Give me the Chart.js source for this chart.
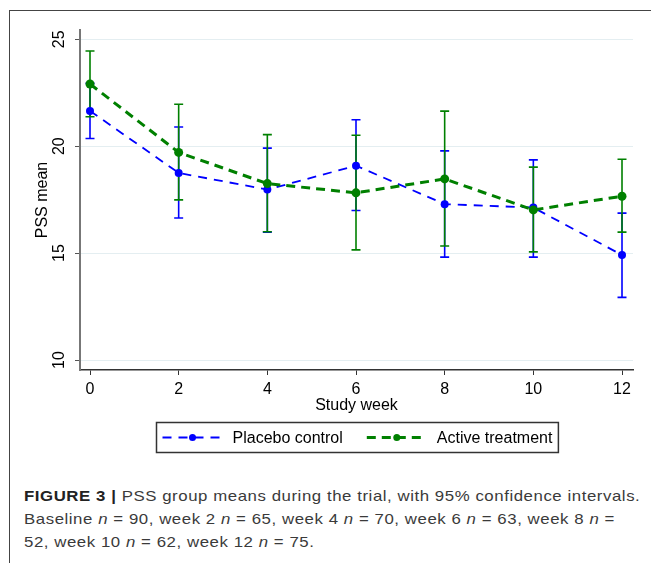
<!DOCTYPE html>
<html>
<head>
<meta charset="utf-8">
<script src="https://cdn.jsdelivr.net/npm/chart.js@4.4.0/dist/chart.umd.min.js"></script>
<style>
    body { margin: 0; background: #fff; }
    #moldura {
        position: absolute; left: 9px; top: 10px; width: 642px; height: 553px;
        border-left: 1px solid #444; border-top: 1px solid #444;
    }
    #graficoPSS { position: absolute; left: 0; top: 0; }
    #legenda {
        position: absolute; left: 24px; top: 484px;
        font: 15px "Liberation Sans", Arial, sans-serif; line-height: 23px;
        letter-spacing: 0.5px;
        color: #3a3a3a; white-space: nowrap;
        transform: scaleX(1.12); transform-origin: 0 0;
    }
    #legenda b { color: #222; }
</style>
</head>
<body>
<div id="moldura"></div>
<canvas id="graficoPSS" width="651" height="470"></canvas>
<div id="legenda"><b>FIGURE 3 |</b> PSS group means during the trial, with 95% confidence intervals.<br>Baseline <i>n</i> = 90, week 2 <i>n</i> = 65, week 4 <i>n</i> = 70, week 6 <i>n</i> = 63, week 8 <i>n</i> =<br>52, week 10 <i>n</i> = 62, week 12 <i>n</i> = 75.</div>

<script>
// semanas do estudo e ticks dos eixos
const weeks = [0, 2, 4, 6, 8, 10, 12];
const xTicks = [0, 2, 4, 6, 8, 10, 12];
const yTicks = [10, 15, 20, 25];

// Placebo control: media e IC 95%
const placeboMean  = [21.65, 18.75, 17.97, 19.09, 17.29, 17.13, 14.91];
const placeboLower = [20.36, 16.64, 15.98, 16.99, 14.81, 14.81, 12.93];
const placeboUpper = [22.94, 20.90, 19.91, 21.24, 19.78, 19.36, 16.87];

// Active treatment: media e IC 95%
const activeMean  = [22.91, 19.71, 18.25, 17.82, 18.47, 17.02, 17.66];
const activeLower = [21.38, 17.49, 16.00, 15.15, 15.33, 15.06, 15.98];
const activeUpper = [24.45, 21.96, 20.54, 20.51, 21.64, 19.02, 19.39];

const FONTE = '"Liberation Sans", Arial, sans-serif';

function toPoints(values) {
    return weeks.map((w, i) => ({ x: w, y: values[i] }));
}

// barras de erro (IC 95%)
const errorBars = {
    id: 'errorBars',
    beforeDatasetsDraw(chart) {
        const ctx = chart.ctx;
        const sx = chart.scales.x, sy = chart.scales.y;
        chart.data.datasets.forEach(ds => {
            ctx.save();
            ctx.strokeStyle = ds.borderColor;
            ctx.lineWidth = 1.6;
            ds.lower.forEach((lo, i) => {
                const px = sx.getPixelForValue(weeks[i]);
                const p1 = sy.getPixelForValue(lo);
                const p2 = sy.getPixelForValue(ds.upper[i]);
                ctx.beginPath();
                ctx.moveTo(px, p1); ctx.lineTo(px, p2);
                ctx.moveTo(px - 4.5, p1); ctx.lineTo(px + 4.5, p1);
                ctx.moveTo(px - 4.5, p2); ctx.lineTo(px + 4.5, p2);
                ctx.stroke();
            });
            ctx.restore();
        });
    }
};

// rotulos do eixo y na vertical (estilo Stata)
const yLabels = {
    id: 'yLabels',
    afterDraw(chart) {
        const ctx = chart.ctx;
        const sy = chart.scales.y;
        ctx.save();
        ctx.font = '16px ' + FONTE;
        ctx.fillStyle = '#000';
        ctx.textAlign = 'center';
        ctx.textBaseline = 'middle';
        sy.ticks.forEach(t => {
            ctx.save();
            ctx.translate(sy.right - 20, sy.getPixelForValue(t.value));
            ctx.rotate(-Math.PI / 2);
            ctx.fillText(String(t.value), 0, 0);
            ctx.restore();
        });
        ctx.restore();
    }
};

// legenda com moldura
const legendBox = {
    id: 'legendBox',
    afterDraw(chart) {
        const ctx = chart.ctx;
        const area = chart.chartArea;
        const sample = 60, gapText = 10, gapItem = 24, pad = 6, h = 30;
        ctx.save();
        ctx.font = '16px ' + FONTE;
        const items = chart.data.datasets.map(ds => ({ ds: ds, w: ctx.measureText(ds.label).width }));
        let total = pad * 2 + gapItem * (items.length - 1);
        items.forEach(it => { total += sample + gapText + it.w; });

        const x0 = Math.round((area.left + area.right) / 2 - total / 2) + 0.5;
        const top = area.bottom + 52.5;
        ctx.strokeStyle = '#333';
        ctx.lineWidth = 1.5;
        ctx.strokeRect(x0, top, total, h);

        const cy = top + h / 2;
        let x = x0 + pad;
        items.forEach(it => {
            const ds = it.ds;
            ctx.strokeStyle = ds.borderColor;
            ctx.lineWidth = ds.borderWidth;
            ctx.setLineDash(ds.borderDash);
            ctx.beginPath();
            ctx.moveTo(x, cy); ctx.lineTo(x + sample, cy);
            ctx.stroke();
            ctx.setLineDash([]);
            ctx.fillStyle = ds.borderColor;
            ctx.beginPath();
            ctx.arc(x + sample / 2, cy, 3.5, 0, Math.PI * 2);
            ctx.fill();
            ctx.fillStyle = '#000';
            ctx.textBaseline = 'middle';
            ctx.fillText(ds.label, x + sample + gapText, cy + 1);
            x += sample + gapText + it.w + gapItem;
        });
        ctx.restore();
    }
};

const data = {
    datasets: [{
        label: 'Placebo control',
        data: toPoints(placeboMean),
        lower: placeboLower,
        upper: placeboUpper,
        borderColor: '#0000ff',
        backgroundColor: '#0000ff',
        borderWidth: 1.8,
        borderDash: [9, 7],
        pointRadius: 4,
        pointBorderWidth: 0,
        tension: 0,
        order: 1
    }, {
        label: 'Active treatment',
        data: toPoints(activeMean),
        lower: activeLower,
        upper: activeUpper,
        borderColor: '#008000',
        backgroundColor: '#008000',
        borderWidth: 3,
        borderDash: [9, 6],
        pointRadius: 4.5,
        pointBorderWidth: 0,
        tension: 0,
        order: 0
    }]
};

const config = {
    type: 'line',
    data: data,
    options: {
        responsive: false,
        animation: false,
        devicePixelRatio: 1,
        layout: { padding: { top: 30, right: 18, left: 0, bottom: 52 } },
        plugins: {
            legend: { display: false },
            tooltip: { enabled: false }
        },
        scales: {
            x: {
                type: 'linear',
                min: -0.2256,
                max: 12.248,
                afterBuildTicks: scale => { scale.ticks = xTicks.map(v => ({ value: v })); },
                afterFit: scale => { scale.height = 48; },
                ticks: { color: '#000', font: { family: FONTE, size: 16 }, padding: 5 },
                grid: { drawOnChartArea: false, drawTicks: true, tickLength: 5, tickColor: '#333' },
                border: { color: '#333', width: 1.5 },
                title: {
                    display: true, text: 'Study week', color: '#000',
                    font: { family: FONTE, size: 16 }, padding: { top: 0, bottom: 3 }
                }
            },
            y: {
                min: 9.533,
                max: 25.435,
                afterBuildTicks: scale => { scale.ticks = yTicks.map(v => ({ value: v })); },
                afterFit: scale => { scale.width = 80; },
                ticks: { display: false },
                grid: { color: '#e4eef1', lineWidth: 1, drawTicks: true, tickLength: 5, tickColor: '#555' },
                border: { color: '#777', width: 2 },
                title: {
                    display: true, text: 'PSS mean', color: '#000',
                    font: { family: FONTE, size: 16 }, padding: { top: 33, bottom: 0 }
                }
            }
        }
    },
    plugins: [errorBars, yLabels, legendBox]
};

const ctx = document.getElementById('graficoPSS').getContext('2d');
const myChart = new Chart(ctx, config);
</script>
</body>
</html>
